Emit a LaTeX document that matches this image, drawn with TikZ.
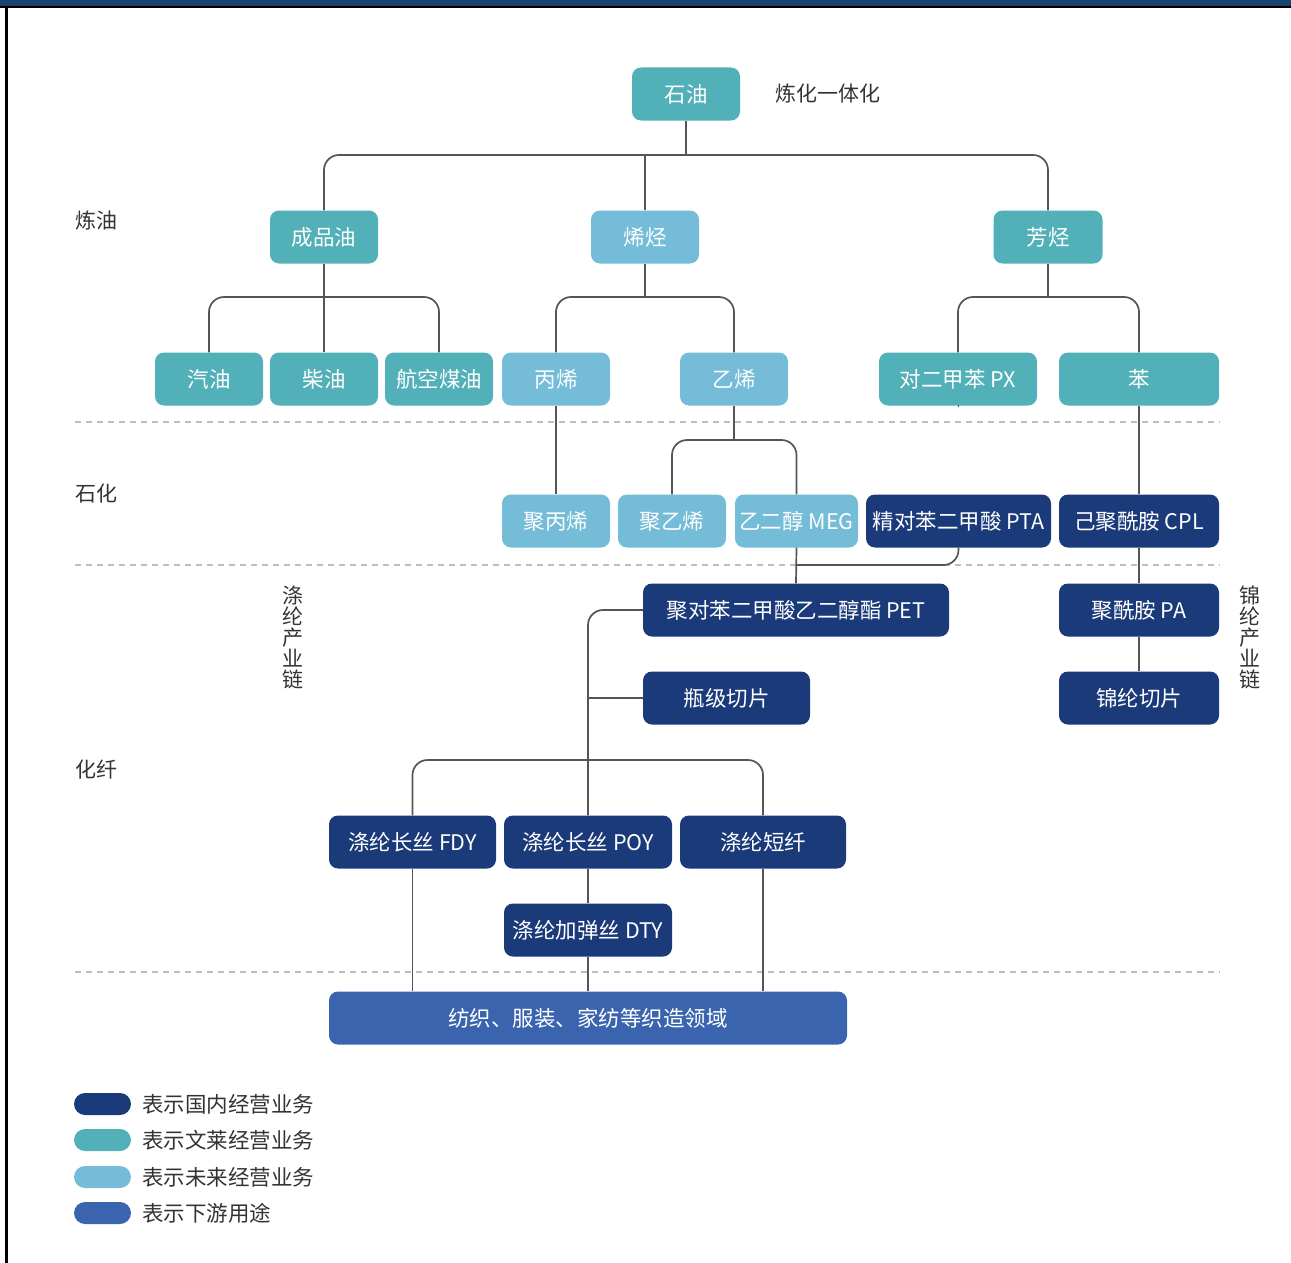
\documentclass[tikz,border=0pt]{standalone}
\usepackage{fontspec}
\setmainfont{Noto Sans CJK SC}
\definecolor{cTeal}{HTML}{52B0B8}
\definecolor{cLight}{HTML}{74BCD8}
\definecolor{cNavy}{HTML}{1A3A7A}
\definecolor{cDown}{HTML}{3A65AE}
\definecolor{cBar}{HTML}{15426E}
\definecolor{cLine}{HTML}{555555}
\definecolor{cDash}{HTML}{BDBDBD}
\definecolor{cText}{HTML}{333333}
\tikzset{
  box/.style={rounded corners=9pt, minimum height=53pt, inner sep=0pt, text=white,
    font=\fontsize{21.5}{25}\selectfont},
  tealbox/.style={box, fill=cTeal},
  lightbox/.style={box, fill=cLight},
  navybox/.style={box, fill=cNavy},
  downbox/.style={box, fill=cDown},
  conn/.style={draw=cLine, line width=1.7pt, rounded corners=15pt},
  sep/.style={draw=cDash, line width=1.4pt, dash pattern=on 6pt off 5pt},
  lbl/.style={text=cText, font=\fontsize{21}{24}\selectfont, inner sep=0pt},
  pill/.style={rounded corners=11pt, minimum width=57pt, minimum height=22pt, inner sep=0pt},
  legtext/.style={text=cText, font=\fontsize{21.5}{24}\selectfont, inner sep=0pt, anchor=west},
}
\begin{document}
\begin{tikzpicture}[x=1pt,y=-1pt]
\useasboundingbox (0,0) rectangle (1291,1263);
% frame
\fill[cBar] (0,0) rectangle (1291,6);
\fill[black] (0,6) rectangle (1291,8.5);
\fill[black] (5,6) rectangle (7.5,1263);

% separators
\draw[sep] (75,422) -- (1220,422);
\draw[sep] (75,565) -- (1220,565);
\draw[sep] (75,972) -- (1220,972);

% side labels
\node[lbl] (lLianyou) at (96,221) {炼油};
\node[lbl] (lShihua) at (96,494) {石化};
\node[lbl] (lHuaxian) at (96,770) {化纤};
\node[lbl] (lLianhua) at (828,94) {炼化一体化};
\node[lbl, align=center, font=\fontsize{21}{21}\selectfont] (lDilun) at (293,637) {涤\\纶\\产\\业\\链};
\node[lbl, align=center, font=\fontsize{21}{21}\selectfont] (lJinlun) at (1250,637) {锦\\纶\\产\\业\\链};

% level 0
\node[tealbox, minimum width=108pt] (sy) at (686,94) {石油};
% level 1
\node[tealbox, minimum width=108pt] (cpy) at (324,237) {成品油};
\node[lightbox, minimum width=108pt] (xt) at (645,237) {烯烃};
\node[tealbox, minimum width=109pt] (ft) at (1048,237) {芳烃};
% level 2
\node[tealbox, minimum width=108pt] (qy) at (209,379) {汽油};
\node[tealbox, minimum width=108pt] (cy) at (324,379) {柴油};
\node[tealbox, minimum width=108pt] (hk) at (439,379) {航空煤油};
\node[lightbox, minimum width=108pt] (bx) at (556,379) {丙烯};
\node[lightbox, minimum width=108pt] (yx) at (734,379) {乙烯};
\node[tealbox, minimum width=158pt] (px) at (958,379) {对二甲苯 PX};
\node[tealbox, minimum width=160pt] (ben) at (1139,379) {苯};
% level 3
\node[lightbox, minimum width=108pt] (jbx) at (556,521) {聚丙烯};
\node[lightbox, minimum width=108pt] (jyx) at (672,521) {聚乙烯};
\node[lightbox, minimum width=123pt] (meg) at (796.5,521) {乙二醇 MEG};
\node[navybox, minimum width=185pt] (pta) at (958.5,521) {精对苯二甲酸 PTA};
\node[navybox, minimum width=160pt] (cpl) at (1139,521) {己聚酰胺 CPL};
% level 4
\node[navybox, minimum width=306pt] (pet) at (796,610) {聚对苯二甲酸乙二醇酯 PET};
\node[navybox, minimum width=160pt] (pa) at (1139,610) {聚酰胺 PA};
\node[navybox, minimum width=167pt] (pjqp) at (726.5,698) {瓶级切片};
\node[navybox, minimum width=160pt] (jlqp) at (1139,698) {锦纶切片};
% level 5
\node[navybox, minimum width=167pt] (fdy) at (412.5,842) {涤纶长丝 FDY};
\node[navybox, minimum width=168pt] (poy) at (588,842) {涤纶长丝 POY};
\node[navybox, minimum width=166pt] (dx) at (763,842) {涤纶短纤};
\node[navybox, minimum width=168pt] (dty) at (588,930) {涤纶加弹丝 DTY};
\node[downbox, minimum width=518pt] (fz) at (588,1018) {纺织、服装、家纺等织造领域};

% junction points
\coordinate (j0) at (686,155);
\coordinate (j0b) at (645,155);
\coordinate (j1) at (324,297);
\coordinate (j2) at (645,297);
\coordinate (j3) at (1048,297);
\coordinate (j4) at (734,440);
\coordinate (j5) at (796,565);
\coordinate (j7) at (588,698);
\coordinate (j8) at (588,760);

% connectors
\draw[conn] (sy.south) -- (j0);
\draw[conn] (cpy.north) |- (j0) -| (ft.north);
\draw[conn] (xt.north) -- (j0b);

\draw[conn] (cpy.south) -- (cy.north);
\draw[conn] (qy.north) |- (j1) -| (hk.north);
\draw[conn] (xt.south) -- (j2);
\draw[conn] (bx.north) |- (j2) -| (yx.north);
\draw[conn] (ft.south) -- (j3);
\draw[conn] (px.north) |- (j3) -| (ben.north);

\draw[conn] (bx.south) -- (jbx.north);
\draw[conn] (yx.south) -- (j4);
\draw[conn] (jyx.north) |- (j4) -| (meg.north);
\draw[conn] (px.south) -- (pta.north |- px.south);
\draw[conn] (ben.south) -- (cpl.north);

\draw[conn] (meg.south) -- (pet.north);
\draw[conn] (pta.south) |- (j5);
\draw[conn] (cpl.south) -- (pa.north);
\draw[conn] (pa.south) -- (jlqp.north);

\draw[conn] (pet.west) -| (poy.north);
\draw[conn] (pjqp.west) -- (j7);
\draw[conn] (fdy.north) |- (j8) -| (dx.north);
\draw[conn] (poy.south) -- (dty.north);
\draw[conn] (dty.south) -- (fz.north);
\draw[conn] (fdy.south) -- (fdy.south |- fz.north);
\draw[conn] (dx.south) -- (dx.south |- fz.north);

% legend
\node[pill, fill=cNavy] (p1) at (102.5,1104) {};
\node[pill, fill=cTeal] (p2) at (102.5,1140) {};
\node[pill, fill=cLight] (p3) at (102.5,1177) {};
\node[pill, fill=cDown] (p4) at (102.5,1213) {};
\node[legtext] (t1) at (142,1104) {表示国内经营业务};
\node[legtext] (t2) at (142,1140) {表示文莱经营业务};
\node[legtext] (t3) at (142,1177) {表示未来经营业务};
\node[legtext] (t4) at (142,1213) {表示下游用途};
\end{tikzpicture}
\end{document}
